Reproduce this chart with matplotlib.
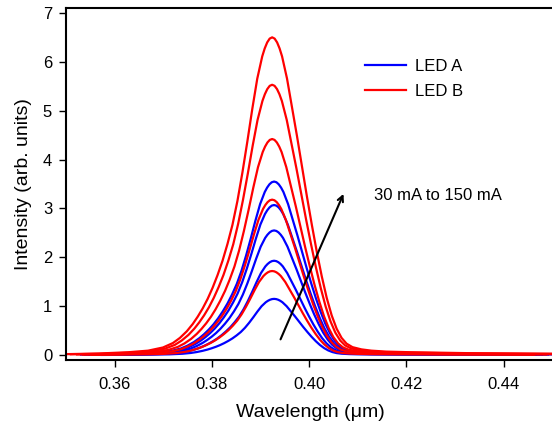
import numpy as np
import matplotlib.pyplot as plt

plt.rcParams['font.family'] = ['Liberation Sans', 'DejaVu Sans']

# peak positions (um)
center_a = 0.3928
center_b = 0.3924

# normalised line shape: offset from peak (pixels, 0.02 um = 98 px),
# relative intensity
offset_px = np.array([-207, -175, -145, -125, -110, -100, -93, -86, -80, -75, -70, -65, -60,
                      -55, -50, -45, -40, -35, -30, -25, -20, -15, -10, -7.5, -5, -2.5, 0,
                      2.5, 5, 7.5, 10, 15, 20, 25, 30, 35, 40, 45, 50, 55, 60, 65, 70, 75,
                      81, 90, 100, 115, 140, 200, 300])
profile = np.array([0.003, 0.005, 0.009, 0.014, 0.024, 0.038, 0.054, 0.075, 0.098, 0.121,
                    0.147, 0.177, 0.212, 0.252, 0.297, 0.350, 0.410, 0.485, 0.574, 0.672,
                    0.775, 0.870, 0.940, 0.965, 0.984, 0.996, 1.0,
                    0.996, 0.984, 0.965, 0.940, 0.870, 0.780, 0.690, 0.595, 0.500, 0.410,
                    0.325, 0.248, 0.180, 0.125, 0.083, 0.054, 0.036, 0.025, 0.018, 0.014,
                    0.011, 0.009, 0.006, 0.004])
offsets = offset_px * 0.02 / 98

# peak heights and relative widths, 30 mA to 150 mA
peaks_a = [1.15, 1.93, 2.55, 3.07, 3.55]
widths_a = [0.84, 0.88, 0.90, 0.92, 0.94]
peaks_b = [1.72, 3.18, 4.42, 5.53, 6.50]
widths_b = [0.88, 0.92, 0.95, 0.98, 1.00]

fig = plt.figure(figsize=(5.52, 4.28), dpi=100)
ax = fig.add_axes([0.1196, 0.1589, 0.886, 0.8224])

for i, (p, w) in enumerate(zip(peaks_a, widths_a)):
    ax.plot(center_a + offsets * w, p * profile, color='#0000FF', lw=1.6,
            label='LED A' if i == 0 else None)
for i, (p, w) in enumerate(zip(peaks_b, widths_b)):
    ax.plot(center_b + offsets * w, p * profile, color='#FF0000', lw=1.6,
            label='LED B' if i == 0 else None)

ax.annotate('', xy=(0.4073, 3.35), xytext=(0.3939, 0.27),
            arrowprops=dict(arrowstyle='->', color='black', lw=1.5))
ax.text(0.4133, 3.27, '30 mA to 150 mA', fontsize=12, va='center', ha='left')

ax.set_xlim(0.35, 0.4506)
ax.set_ylim(-0.1, 7.1)
ax.set_xticks([0.36, 0.38, 0.40, 0.42, 0.44])
ax.set_xticklabels(['0.36', '0.38', '0.40', '0.42', '0.44'])
ax.set_yticks(range(8))
ax.tick_params(direction='out', length=5, width=1, labelsize=12)
ax.tick_params(axis='x', pad=7)
ax.tick_params(axis='y', pad=5)
ax.spines['right'].set_visible(False)
for s in ['left', 'top', 'bottom']:
    ax.spines[s].set_linewidth(1.5)

ax.set_xlabel('Wavelength (μm)', fontsize=14, labelpad=9)
ax.set_ylabel('Intensity (arb. units)', fontsize=14, labelpad=8)

ax.legend(loc='upper left', bbox_to_anchor=(0.598, 0.875), borderaxespad=0,
          frameon=False, fontsize=12, handlelength=2.45, handletextpad=0.55,
          labelspacing=0.6)

fig.savefig('out.png', dpi=100)
